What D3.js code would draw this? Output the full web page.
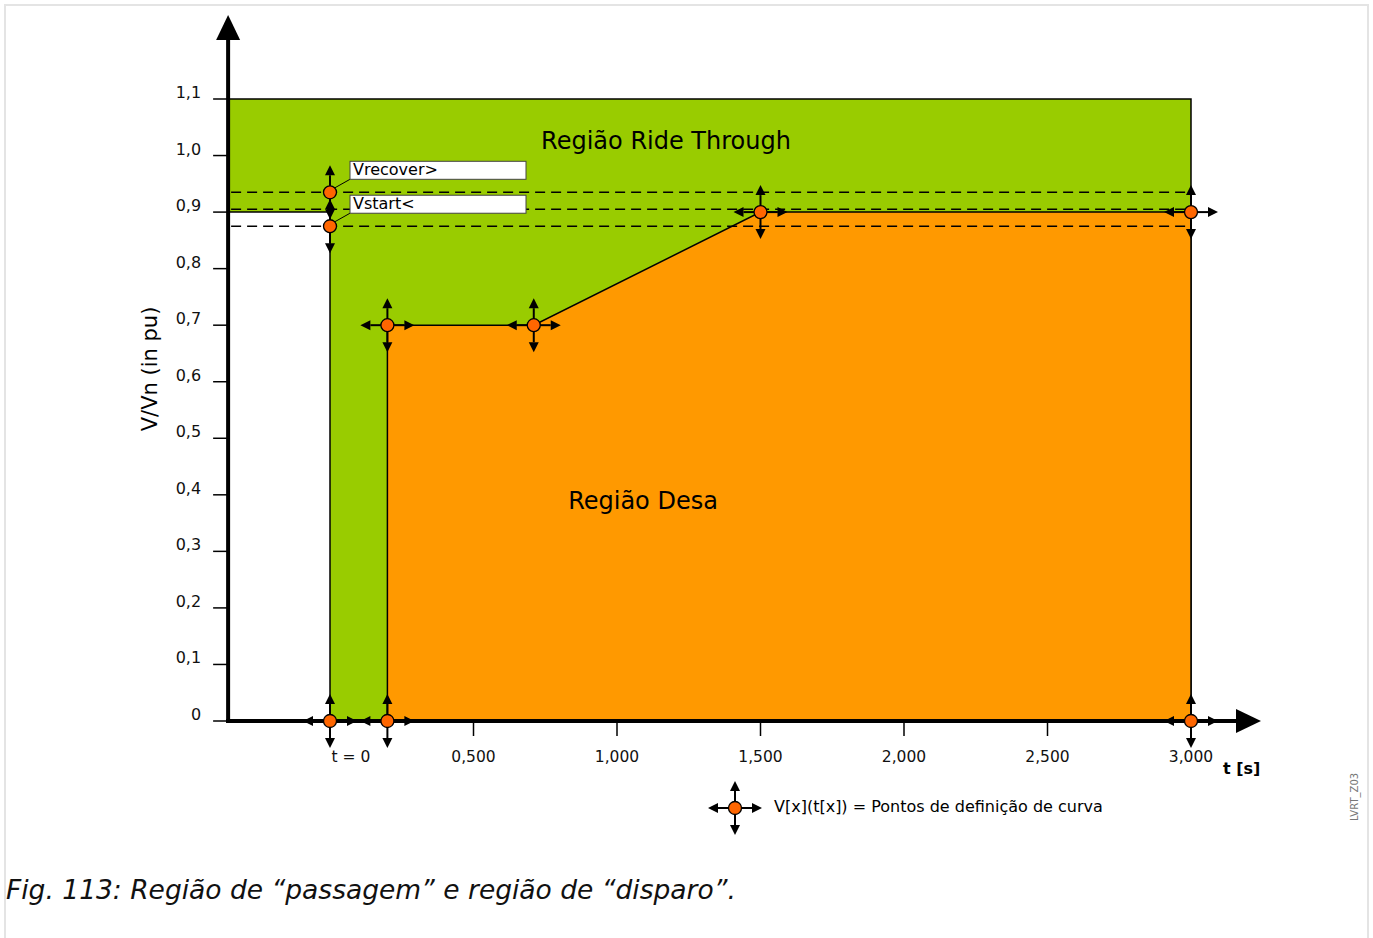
<!DOCTYPE html>
<html>
<head>
<meta charset="utf-8">
<script src="https://cdn.jsdelivr.net/npm/d3@7"></script>
<style>
  body { margin: 0; background: #fff; font-family: "DejaVu Sans", sans-serif; }
  #chart { width: 1373px; height: 938px; }
</style>
</head>
<body>
<div id="chart"></div>
<script>
// data
const yTicks = [0, 0.1, 0.2, 0.3, 0.4, 0.5, 0.6, 0.7, 0.8, 0.9, 1.0, 1.1];
const xTicks = [0.5, 1.0, 1.5, 2.0, 2.5, 3.0];
const tStart = -0.355;           // where the V axis sits on the time axis
const tEnd = 3.0;
const vTop = 1.1;
const vRideLow = 0.9;
// trip region (orange) outline
const tripT = [0.2, 0.2, 0.71, 1.5, 3.0, 3.0];
const tripV = [0, 0.7, 0.7, 0.9, 0.9, 0];
// curve definition points, and which arrows they carry
const pointT = [0, 0.2, 0.2, 0.71, 1.5, 3.0, 3.0, 0, 0];
const pointV = [0, 0, 0.7, 0.7, 0.9, 0.9, 0, 0.935, 0.875];
const pointAll = [true, true, true, true, true, true, true, false, false];
const dashedV = [0.935, 0.905, 0.875];
const thresholdNames = ['Vrecover>', 'Vstart<'];
const thresholdV = [0.935, 0.875];

const fmtLocale = d3.formatLocale({ decimal: ',', thousands: '.', grouping: [3], currency: ['', ''] });
const fmtY = v => v === 0 ? '0' : fmtLocale.format('.1f')(v);
const fmtX = fmtLocale.format('.3f');

// dimensions
const WIDTH = 1373;
const HEIGHT = 938;
const GREEN = '#99cc00';
const ORANGE = '#ff9900';
const DOT = '#ff6600';

const $svg = d3.select('#chart').append('svg')
  .attr('width', WIDTH)
  .attr('height', HEIGHT)
  .style('font-family', '"DejaVu Sans", sans-serif');

// scales
const x = d3.scaleLinear().domain([0, tEnd]).range([330, 1191]);
const y = d3.scaleLinear().domain([0, vTop]).range([721, 99]);
const x0 = x(tStart);
const y0 = y(0);

// page frame
$svg.append('path')
  .attr('d', `M5,${HEIGHT} V5 H1368 V${HEIGHT}`)
  .attr('fill', 'none')
  .attr('stroke', '#e4e4e4')
  .attr('stroke-width', 2);

const $vis = $svg.append('g').attr('class', 'g-vis');

// ride through region
const ride = [[tStart, vTop], [tEnd, vTop], [tEnd, 0], [0, 0], [0, vRideLow], [tStart, vRideLow]];
$vis.append('path')
  .attr('d', d3.line().x(d => x(d[0])).y(d => y(d[1]))(ride) + 'Z')
  .attr('fill', GREEN)
  .attr('stroke', '#000')
  .attr('stroke-width', 1.5);

// trip region
const trip = tripT.map((t, i) => [t, tripV[i]]);
$vis.append('path')
  .attr('d', d3.line().x(d => x(d[0])).y(d => y(d[1]))(trip) + 'Z')
  .attr('fill', ORANGE)
  .attr('stroke', '#000')
  .attr('stroke-width', 1.5);

// dashed threshold lines
$vis.selectAll('line.dash')
  .data(dashedV)
  .join('line')
  .attr('class', 'dash')
  .attr('x1', x0 + 3)
  .attr('x2', x(tEnd))
  .attr('y1', d => y(d))
  .attr('y2', d => y(d))
  .attr('stroke', '#000')
  .attr('stroke-width', 1.5)
  .attr('stroke-dasharray', '10,6');

// region labels
$vis.append('text')
  .attr('x', 666).attr('y', 149)
  .attr('text-anchor', 'middle')
  .attr('font-size', 24)
  .text('Região Ride Through');
$vis.append('text')
  .attr('x', 643).attr('y', 509)
  .attr('text-anchor', 'middle')
  .attr('font-size', 24)
  .text('Região Desa');

// axes
const $axis = $svg.append('g').attr('class', 'g-axis');
$axis.append('line')
  .attr('x1', x0).attr('y1', y0 + 2)
  .attr('x2', x0).attr('y2', 38)
  .attr('stroke', '#000').attr('stroke-width', 4);
$axis.append('path')
  .attr('d', `M${x0},15 L${x0 + 12},40 L${x0 - 12},40 Z`)
  .attr('fill', '#000');
$axis.append('line')
  .attr('x1', x0 - 2).attr('y1', y0)
  .attr('x2', 1238).attr('y2', y0)
  .attr('stroke', '#000').attr('stroke-width', 4);
$axis.append('path')
  .attr('d', `M1261,${y0} L1236,${y0 - 12} L1236,${y0 + 12} Z`)
  .attr('fill', '#000');

// y ticks
const $yTick = $axis.selectAll('g.ytick')
  .data(yTicks)
  .join('g')
  .attr('class', 'ytick')
  .attr('transform', d => `translate(0,${y(d)})`);
$yTick.append('line')
  .attr('x1', x0 - 15).attr('x2', x0)
  .attr('stroke', '#000').attr('stroke-width', 1.5);
$yTick.append('text')
  .attr('x', x0 - 27).attr('y', -1)
  .attr('text-anchor', 'end')
  .attr('font-size', 16)
  .attr('fill', '#111')
  .text(fmtY);

// x ticks
const $xTick = $axis.selectAll('g.xtick')
  .data(xTicks)
  .join('g')
  .attr('class', 'xtick')
  .attr('transform', d => `translate(${x(d)},${y0})`);
$xTick.append('line')
  .attr('y1', 0).attr('y2', 15)
  .attr('stroke', '#000').attr('stroke-width', 1.5);
$xTick.append('text')
  .attr('y', 41)
  .attr('text-anchor', 'middle')
  .attr('font-size', 15.5)
  .attr('fill', '#111')
  .text(fmtX);
$axis.append('text')
  .attr('x', x(0) + 21).attr('y', y0 + 41)
  .attr('text-anchor', 'middle')
  .attr('font-size', 15.5)
  .attr('fill', '#111')
  .text('t = 0');
$axis.append('text')
  .attr('x', 1223).attr('y', y0 + 53)
  .attr('font-size', 16)
  .attr('font-weight', 'bold')
  .text('t [s]');
$axis.append('text')
  .attr('transform', `translate(157,369) rotate(-90)`)
  .attr('text-anchor', 'middle')
  .attr('font-size', 21)
  .text('V/Vn (in pu)');

// helper: arrow from (ax,ay) towards (bx,by)
function arrow(g, ax, ay, bx, by) {
  const len = Math.hypot(bx - ax, by - ay);
  const ux = (bx - ax) / len;
  const uy = (by - ay) / len;
  const hl = 10;
  const hw = 5;
  g.append('line')
    .attr('x1', ax).attr('y1', ay)
    .attr('x2', bx - ux * hl).attr('y2', by - uy * hl)
    .attr('stroke', '#000').attr('stroke-width', 2);
  const px = bx - ux * hl;
  const py = by - uy * hl;
  g.append('path')
    .attr('d', `M${bx},${by} L${px - uy * hw},${py + ux * hw} L${px + uy * hw},${py - ux * hw} Z`)
    .attr('fill', '#000');
}

function marker(g, cx, cy, all) {
  const r = 27;
  arrow(g, cx, cy, cx, cy - r);
  arrow(g, cx, cy, cx, cy + r);
  if (all) {
    arrow(g, cx, cy, cx - r, cy);
    arrow(g, cx, cy, cx + r, cy);
  }
  g.append('circle')
    .attr('cx', cx).attr('cy', cy).attr('r', 6.5)
    .attr('fill', DOT)
    .attr('stroke', '#000').attr('stroke-width', 1.3);
}

// threshold label boxes
const $labels = $svg.append('g').attr('class', 'g-labels');
thresholdNames.forEach((name, i) => {
  const cx = x(0);
  const cy = y(thresholdV[i]);
  const bx = cx + 20;
  const by = cy - 31;
  $labels.append('line')
    .attr('x1', cx + 4).attr('y1', cy - 4)
    .attr('x2', bx).attr('y2', by + 18)
    .attr('stroke', '#000').attr('stroke-width', 1);
  $labels.append('rect')
    .attr('x', bx).attr('y', by)
    .attr('width', 176).attr('height', 18)
    .attr('fill', '#fff')
    .attr('stroke', '#444').attr('stroke-width', 1);
  $labels.append('text')
    .attr('x', bx + 3).attr('y', by + 14)
    .attr('font-size', 16)
    .text(name);
});

// definition points
const $points = $svg.append('g').attr('class', 'g-points');
pointT.forEach((t, i) => {
  marker($points.append('g'), x(t), y(pointV[i]), pointAll[i]);
});

// legend
const $legend = $svg.append('g').attr('class', 'g-legend');
marker($legend.append('g'), 735, 808, true);
$legend.append('text')
  .attr('x', 774).attr('y', 812)
  .attr('font-size', 16)
  .text('V[x](t[x]) = Pontos de definição de curva');

// figure id
$svg.append('text')
  .attr('transform', 'translate(1358,797) rotate(-90)')
  .attr('text-anchor', 'middle')
  .attr('font-size', 10)
  .attr('fill', '#777')
  .text('LVRT_Z03');

// caption
$svg.append('text')
  .attr('x', 6).attr('y', 899)
  .attr('font-size', 26.5)
  .attr('font-style', 'italic')
  .attr('fill', '#111')
  .text('Fig. 113: Região de “passagem” e região de “disparo”.');
</script>
</body>
</html>
